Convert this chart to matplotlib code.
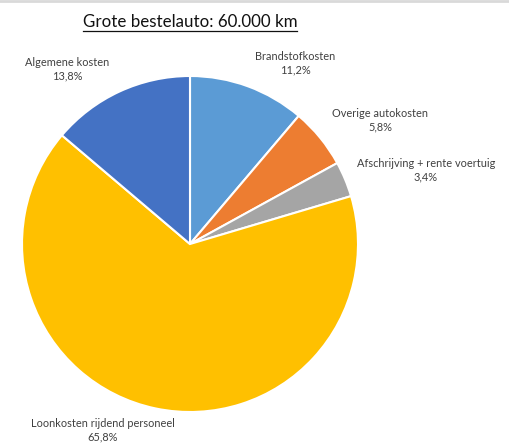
import matplotlib
matplotlib.use("Agg")
import matplotlib.pyplot as plt

title = "Grote bestelauto: 60.000 km"
categories = ["Brandstofkosten", "Overige autokosten", "Afschrijving + rente voertuig",
              "Loonkosten rijdend personeel", "Algemene kosten"]
shares = [11.2, 5.8, 3.4, 65.8, 13.8]
colors = ["#5B9BD5", "#ED7D31", "#A5A5A5", "#FFC000", "#4472C4"]
label_pos = [(295, 63), (380, 120), (426, 170), (103, 430), (67, 69)]

W, H = 510, 447
plt.rcParams['font.family'] = ['Lato', 'DejaVu Sans']
fig = plt.figure(figsize=(W / 100, H / 100), dpi=100)
ax = fig.add_axes([0, 0, 1, 1])
ax.set_xlim(0, W)
ax.set_ylim(0, H)
ax.set_aspect('equal')
ax.axis('off')

ax.pie(shares, colors=colors, startangle=90, counterclock=False,
       center=(190, H - 244), radius=168,
       wedgeprops=dict(edgecolor='white', linewidth=1.5))
ax.set_xlim(0, W)
ax.set_ylim(0, H)

for cat, val, (x, y) in zip(categories, shares, label_pos):
    txt = f"{cat}\n{val:.1f}%".replace('.', ',')
    ax.text(x, H - y, txt, ha='center', va='center', fontsize=7.9,
            color='#404040', linespacing=1.25)

t = ax.text(190, H - 22, title, ha='center', va='center', fontsize=12.2, color='#111111')
# underline the title
fig.canvas.draw()
bb = t.get_window_extent().transformed(ax.transData.inverted())
ax.plot([bb.x0, bb.x1], [bb.y0 - 0.5, bb.y0 - 0.5], color='#111111', lw=0.9)

ax.axhline(H - 1, color='#d9d9d9', lw=2)

fig.savefig("out.png", dpi=100)
